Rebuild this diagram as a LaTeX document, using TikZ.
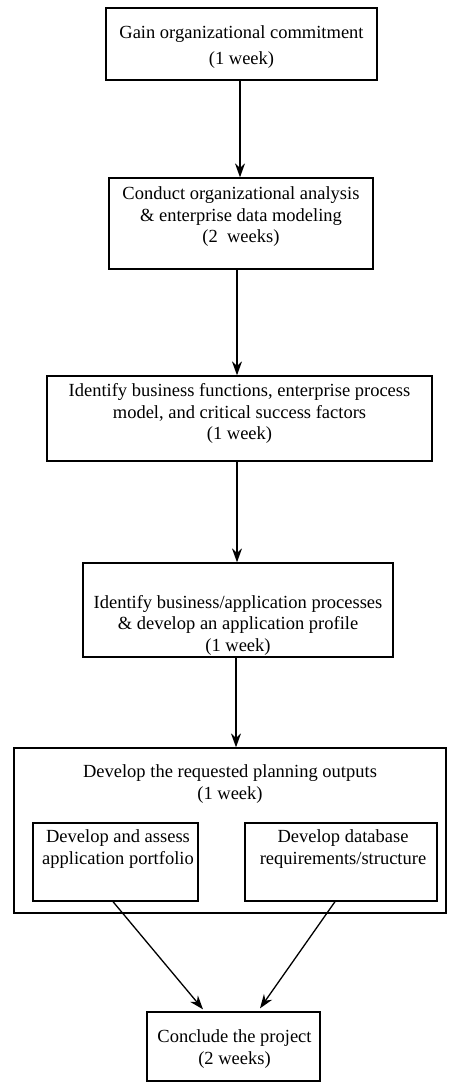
\documentclass[tikz,border=0pt]{standalone}
\usepackage{fontspec}
\setmainfont{Liberation Serif}
\usetikzlibrary{arrows.meta}
\begin{document}
\begin{tikzpicture}[x=1pt,y=-1pt,
  box/.style={draw, line width=1.3pt, inner sep=0pt},
  txt/.style={align=center, font=\fontsize{18.5}{21.5}\selectfont, inner sep=0pt},
  arr/.style={-{Stealth[length=14pt,width=10pt]}, line width=1.3pt}]
\useasboundingbox (0,0) rectangle (448,1083);
% boxes
\node[box, minimum width=271pt, minimum height=72pt] (b1) at (241.5,44) {};
\node[box, minimum width=264pt, minimum height=91pt] (b2) at (241,223.5) {};
\node[box, minimum width=385pt, minimum height=85pt] (b3) at (239.5,418.5) {};
\node[box, minimum width=310pt, minimum height=94pt] (b4) at (238,610) {};
\node[box, minimum width=432pt, minimum height=165pt] (b5) at (230,830.5) {};
\node[box, minimum width=165pt, minimum height=78pt] (s1) at (115.5,862) {};
\node[box, minimum width=192pt, minimum height=78pt] (s2) at (341,862) {};
\node[box, minimum width=173pt, minimum height=69pt] (b6) at (233.5,1046.5) {};
% texts
\node[txt, font=\fontsize{18.5}{26}\selectfont] (t1) at (241.5,47) {Gain organizational commitment\\(1 week)};
\node[txt] (t2) at (241,217) {Conduct organizational analysis\\\& enterprise data modeling\\(2~~weeks)};
\node[txt] (t3) at (239.5,413.5) {Identify business functions, enterprise process\\model, and critical success factors\\(1 week)};
\node[txt] (t4) at (238,625) {Identify business/application processes\\\& develop an application profile\\(1 week)};
\node[txt] (t5) at (230,784) {Develop the requested planning outputs\\(1 week)};
\node[txt] (ts1) at (118,849) {Develop and assess\\application portfolio};
\node[txt] (ts2) at (343,849) {Develop database\\requirements/structure};
\node[txt] (t6) at (234.5,1049) {Conclude the project\\(2 weeks)};
% arrows
\draw[arr] ([xshift=-1.5pt]b1.south) -- ([xshift=-1.5pt]b1.south |- b2.north);
\draw[arr] ([xshift=-4pt]b2.south) -- ([xshift=-4pt]b2.south |- b3.north);
\draw[arr] ([xshift=-2.5pt]b3.south) -- ([xshift=-2.5pt]b3.south |- b4.north);
\draw[arr] ([xshift=-2pt]b4.south) -- ([xshift=-2pt]b4.south |- b5.north);
\draw[arr] ([xshift=-2.5pt]s1.south) -- ([xshift=-30.5pt,yshift=2pt]b6.north);
\draw[arr] ([xshift=-6pt]s2.south) -- ([xshift=26.5pt,yshift=3pt]b6.north);
\end{tikzpicture}
\end{document}
